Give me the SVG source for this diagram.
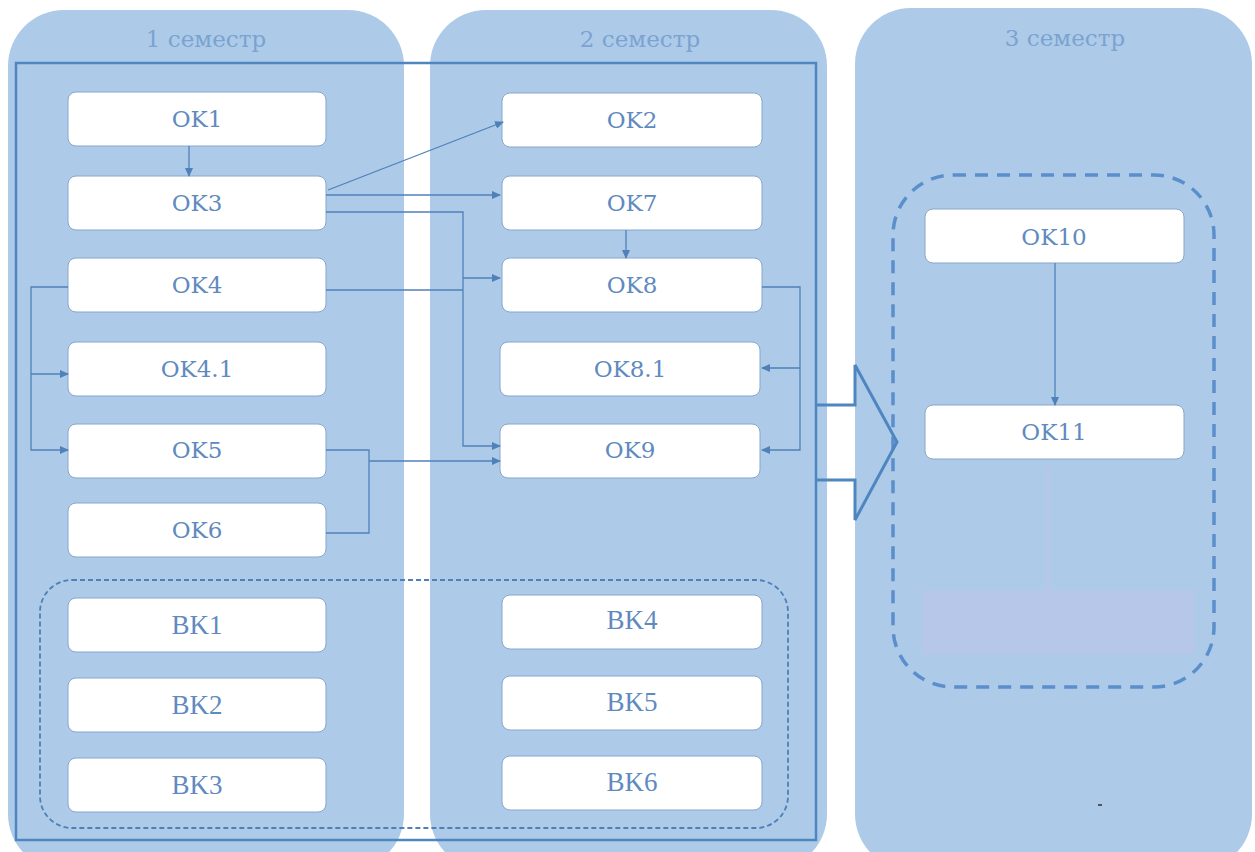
<svg xmlns="http://www.w3.org/2000/svg" width="1255" height="852" viewBox="0 0 1255 852">
<style>
.col{fill:#adcbe9;}
.lbl{font-family:"DejaVu Serif","Liberation Serif",serif;font-size:23px;fill:#7ba2d0;text-anchor:middle;}
.node rect{fill:#ffffff;stroke:#86a6cc;stroke-width:1;}
.node text{font-family:"DejaVu Serif","Liberation Serif",serif;font-size:23px;fill:#5f8ac0;text-anchor:middle;dominant-baseline:central;}
.bk text{font-family:"Liberation Serif",serif;font-size:27px;fill:#5f8ac0;text-anchor:middle;dominant-baseline:central;}
.bk rect{fill:#ffffff;stroke:#86a6cc;stroke-width:1;}
#connectors path{fill:none;stroke:#4f80b8;stroke-width:1.3;}
</style>
<defs>
<marker id="arr" markerWidth="9" markerHeight="8" refX="8" refY="4" orient="auto" markerUnits="userSpaceOnUse">
<path d="M0,0 L9,4 L0,8 Z" fill="#4f80b8"/>
</marker>
</defs>
<rect width="1255" height="852" fill="#ffffff"/>
<g id="columns">
<rect class="col" x="8" y="10" width="396" height="860" rx="56"/>
<rect class="col" x="430" y="10" width="397" height="860" rx="56"/>
<rect class="col" x="855" y="8" width="397" height="862" rx="56"/>
<text class="lbl" x="206" y="47">1 семестр</text>
<text class="lbl" x="640" y="47">2 семестр</text>
<text class="lbl" x="1065" y="46">3 семестр</text>
</g>
<g id="frame">
<rect x="16" y="63" width="800" height="777" fill="none" stroke="#4f86c0" stroke-width="2.5"/>
<rect x="40" y="580" width="748" height="248" rx="32" fill="none" stroke="#4f7fb5" stroke-width="1.8" stroke-dasharray="5,3"/>
<rect x="893" y="175" width="321" height="512" rx="60" fill="none" stroke="#5b8fcb" stroke-width="3.5" stroke-dasharray="13,9"/>
<rect x="922" y="590" width="272" height="64" fill="#b7c7ea"/>
<line x1="1048" y1="466" x2="1048" y2="590" stroke="#b7c7ea" stroke-width="4"/>
<rect x="1098" y="804" width="4" height="2" fill="#555555"/>
</g>
<g id="bigarrow">
<path d="M816,405 H855 V365 L897,442 L855,520 V480 H816" fill="none" stroke="#4f86c0" stroke-width="3"/>
</g>
<g id="OK1" class="node"><rect x="68" y="92" width="258" height="54" rx="8"/><text x="197" y="119">OK1</text></g>
<g id="OK3" class="node"><rect x="68" y="176" width="258" height="54" rx="8"/><text x="197" y="203">OK3</text></g>
<g id="OK4" class="node"><rect x="68" y="258" width="258" height="54" rx="8"/><text x="197" y="285">OK4</text></g>
<g id="OK4.1" class="node"><rect x="68" y="342" width="258" height="54" rx="8"/><text x="197" y="369">OK4.1</text></g>
<g id="OK5" class="node"><rect x="68" y="424" width="258" height="54" rx="8"/><text x="197" y="450">OK5</text></g>
<g id="OK6" class="node"><rect x="68" y="503" width="258" height="54" rx="8"/><text x="197" y="530">OK6</text></g>
<g id="BK1" class="bk"><rect x="68" y="598" width="258" height="54" rx="8"/><text x="197" y="625">BK1</text></g>
<g id="BK2" class="bk"><rect x="68" y="678" width="258" height="54" rx="8"/><text x="197" y="705">BK2</text></g>
<g id="BK3" class="bk"><rect x="68" y="758" width="258" height="54" rx="8"/><text x="197" y="785">BK3</text></g>
<g id="OK2" class="node"><rect x="502" y="93" width="260" height="54" rx="8"/><text x="632" y="120">OK2</text></g>
<g id="OK7" class="node"><rect x="502" y="176" width="260" height="54" rx="8"/><text x="632" y="203">OK7</text></g>
<g id="OK8" class="node"><rect x="502" y="258" width="260" height="54" rx="8"/><text x="632" y="285">OK8</text></g>
<g id="OK8.1" class="node"><rect x="500" y="342" width="260" height="54" rx="8"/><text x="630" y="369">OK8.1</text></g>
<g id="OK9" class="node"><rect x="500" y="424" width="260" height="54" rx="8"/><text x="630" y="450">OK9</text></g>
<g id="BK4" class="bk"><rect x="502" y="595" width="260" height="54" rx="8"/><text x="632" y="620">BK4</text></g>
<g id="BK5" class="bk"><rect x="502" y="676" width="260" height="54" rx="8"/><text x="632" y="702">BK5</text></g>
<g id="BK6" class="bk"><rect x="502" y="756" width="260" height="54" rx="8"/><text x="632" y="782">BK6</text></g>
<g id="OK10" class="node"><rect x="925" y="209" width="259" height="54" rx="8"/><text x="1054" y="237">OK10</text></g>
<g id="OK11" class="node"><rect x="925" y="405" width="259" height="54" rx="8"/><text x="1054" y="432">OK11</text></g>
<g id="connectors">
<path d="M189,146 V176" marker-end="url(#arr)"/>
<path d="M328,190 L503,122" marker-end="url(#arr)"/>
<path d="M326,195 H500" marker-end="url(#arr)"/>
<path d="M326,212 H463 V446 H500" marker-end="url(#arr)"/>
<path d="M326,290 H463"/>
<path d="M463,278 H500" marker-end="url(#arr)"/>
<path d="M626,230 V258" marker-end="url(#arr)"/>
<path d="M762,287 H800 V450 H762" marker-end="url(#arr)"/>
<path d="M800,368 H762" marker-end="url(#arr)"/>
<path d="M326,450 H369 V533 H326"/>
<path d="M369,461 H500" marker-end="url(#arr)"/>
<path d="M68,287 H31 V450 H68" marker-end="url(#arr)"/>
<path d="M31,374 H68" marker-end="url(#arr)"/>
<path d="M1055,263 V405" marker-end="url(#arr)"/>
</g>
</svg>
